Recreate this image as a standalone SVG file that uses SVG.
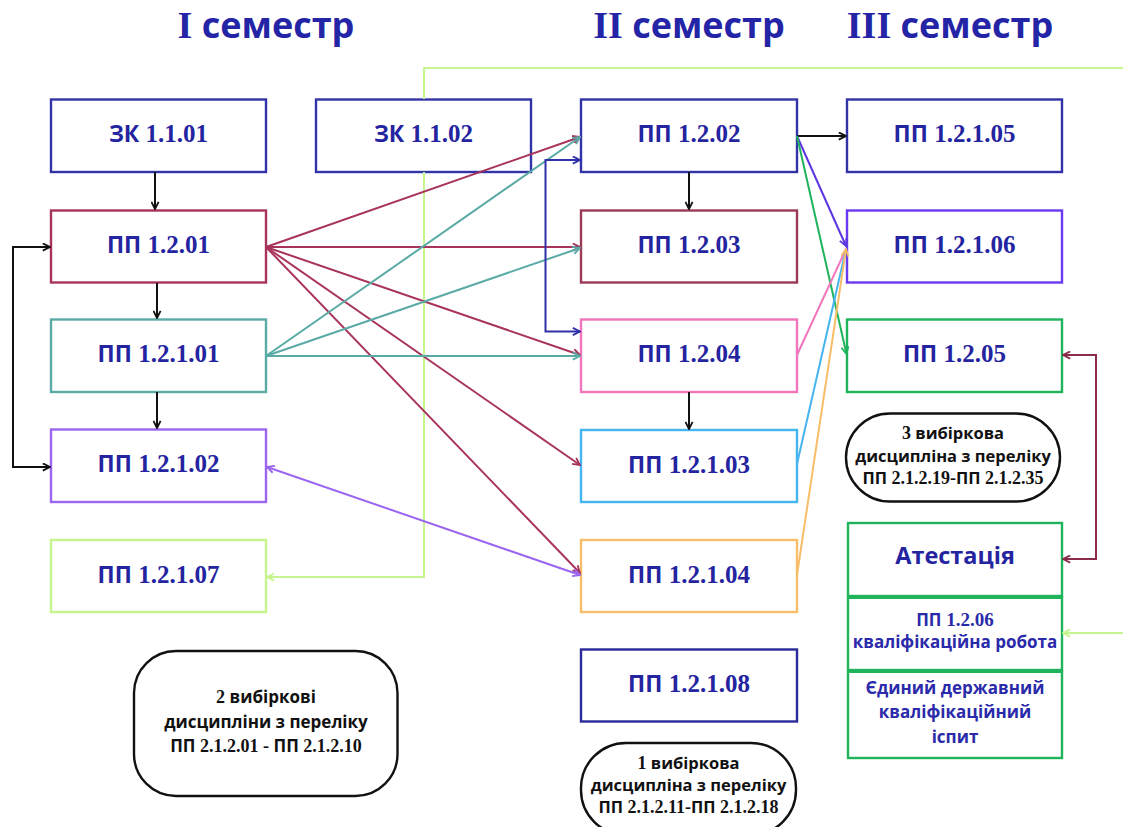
<svg xmlns="http://www.w3.org/2000/svg" width="1123" height="827" viewBox="0 0 1123 827">
<style>
.bg{fill:#ffffff}
.box{fill:#ffffff;stroke-width:2.4}
.lbl{font-family:"Open Sans","DejaVu Sans",sans-serif;font-weight:700;font-size:23px;fill:#2424a0;text-anchor:middle}
.n{font-family:"Liberation Serif","Times New Roman",serif;font-weight:700;font-size:25px}
.h{font-family:"Open Sans","DejaVu Sans",sans-serif;font-weight:700;font-size:36px;fill:#2424a6;text-anchor:middle}
.hn{font-family:"Liberation Serif","Times New Roman",serif;font-weight:700;font-size:38px}
.pill{fill:#ffffff;stroke:#111111;stroke-width:2.4}
.pt{font-family:"Open Sans","DejaVu Sans",sans-serif;font-weight:700;font-size:17px;fill:#111111;text-anchor:middle}
.pn{font-family:"Liberation Serif","Times New Roman",serif;font-weight:700;font-size:18px}
.st{font-family:"Open Sans","DejaVu Sans",sans-serif;font-weight:700;font-size:17px;fill:#2a2aaa;text-anchor:middle}
.c{fill:none;stroke-width:2}
</style>
<defs>
<marker id="mk" viewBox="0 0 10 10" refX="9" refY="5" markerWidth="9" markerHeight="9" markerUnits="userSpaceOnUse" orient="auto-start-reverse"><path d="M1,1 L9,5 L1,9" fill="none" stroke="#111111" stroke-width="2"/></marker>
<marker id="mr" viewBox="0 0 10 10" refX="9" refY="5" markerWidth="9" markerHeight="9" markerUnits="userSpaceOnUse" orient="auto-start-reverse"><path d="M1,1 L9,5 L1,9" fill="none" stroke="#a8345c" stroke-width="2"/></marker>
<marker id="mt" viewBox="0 0 10 10" refX="9" refY="5" markerWidth="9" markerHeight="9" markerUnits="userSpaceOnUse" orient="auto-start-reverse"><path d="M1,1 L9,5 L1,9" fill="none" stroke="#5aaaa6" stroke-width="2"/></marker>
<marker id="mb" viewBox="0 0 10 10" refX="9" refY="5" markerWidth="9" markerHeight="9" markerUnits="userSpaceOnUse" orient="auto-start-reverse"><path d="M1,1 L9,5 L1,9" fill="none" stroke="#3030a8" stroke-width="2"/></marker>
<marker id="mp" viewBox="0 0 10 10" refX="9" refY="5" markerWidth="9" markerHeight="9" markerUnits="userSpaceOnUse" orient="auto-start-reverse"><path d="M1,1 L9,5 L1,9" fill="none" stroke="#9a66f0" stroke-width="2"/></marker>
<marker id="mlg" viewBox="0 0 10 10" refX="9" refY="5" markerWidth="9" markerHeight="9" markerUnits="userSpaceOnUse" orient="auto-start-reverse"><path d="M1,1 L9,5 L1,9" fill="none" stroke="#c6f48e" stroke-width="2"/></marker>
<marker id="mv" viewBox="0 0 10 10" refX="9" refY="5" markerWidth="9" markerHeight="9" markerUnits="userSpaceOnUse" orient="auto-start-reverse"><path d="M1,1 L9,5 L1,9" fill="none" stroke="#5a35e0" stroke-width="2"/></marker>
<marker id="mg" viewBox="0 0 10 10" refX="9" refY="5" markerWidth="9" markerHeight="9" markerUnits="userSpaceOnUse" orient="auto-start-reverse"><path d="M1,1 L9,5 L1,9" fill="none" stroke="#1fb35c" stroke-width="2"/></marker>
<marker id="mo" viewBox="0 0 10 10" refX="9" refY="5" markerWidth="9" markerHeight="9" markerUnits="userSpaceOnUse" orient="auto-start-reverse"><path d="M1,1 L9,5 L1,9" fill="none" stroke="#f8bd68" stroke-width="2"/></marker>
<marker id="mdr" viewBox="0 0 10 10" refX="9" refY="5" markerWidth="9" markerHeight="9" markerUnits="userSpaceOnUse" orient="auto-start-reverse"><path d="M1,1 L9,5 L1,9" fill="none" stroke="#8a2b48" stroke-width="2"/></marker>
</defs>
<rect class="bg" x="0" y="0" width="1123" height="827"/>

<g id="headings">
<text class="h" x="266" y="38"><tspan class="hn">I</tspan> семестр</text>
<text class="h" x="689" y="38"><tspan class="hn">II</tspan> семестр</text>
<text class="h" x="950" y="38"><tspan class="hn">III</tspan> семестр</text>
</g>

<g id="zk-1-1-01"><rect class="box" x="51" y="99.5" width="215" height="72.5" stroke="#3333a8"/><text class="lbl" x="158.5" y="142">ЗК<tspan class="n"> 1.1.01</tspan></text></g>
<g id="zk-1-1-02"><rect class="box" x="316" y="99.5" width="215" height="72.5" stroke="#3333a8"/><text class="lbl" x="423.5" y="142">ЗК<tspan class="n"> 1.1.02</tspan></text></g>
<g id="pp-1-2-01"><rect class="box" x="51" y="210.5" width="215" height="72" stroke="#a8345c"/><text class="lbl" x="158.5" y="253">ПП<tspan class="n"> 1.2.01</tspan></text></g>
<g id="pp-1-2-1-01"><rect class="box" x="51" y="319.5" width="215" height="72.5" stroke="#5aaaa6"/><text class="lbl" x="158.5" y="362">ПП<tspan class="n"> 1.2.1.01</tspan></text></g>
<g id="pp-1-2-1-02"><rect class="box" x="51" y="429.5" width="215" height="72.5" stroke="#9a66f0"/><text class="lbl" x="158.5" y="472">ПП<tspan class="n"> 1.2.1.02</tspan></text></g>
<g id="pp-1-2-1-07"><rect class="box" x="51" y="540" width="215" height="72" stroke="#c6f48e"/><text class="lbl" x="158.5" y="582.5">ПП<tspan class="n"> 1.2.1.07</tspan></text></g>

<g id="pp-1-2-02"><rect class="box" x="581" y="99.5" width="216" height="72.5" stroke="#3333a8"/><text class="lbl" x="689" y="142">ПП<tspan class="n"> 1.2.02</tspan></text></g>
<g id="pp-1-2-03"><rect class="box" x="581" y="210.5" width="216" height="72" stroke="#9a3a55"/><text class="lbl" x="689" y="253">ПП<tspan class="n"> 1.2.03</tspan></text></g>
<g id="pp-1-2-04"><rect class="box" x="581" y="319.5" width="216" height="72.5" stroke="#f075bb"/><text class="lbl" x="689" y="362">ПП<tspan class="n"> 1.2.04</tspan></text></g>
<g id="pp-1-2-1-03"><rect class="box" x="581" y="430" width="216" height="72" stroke="#45b5f0"/><text class="lbl" x="689" y="472.5">ПП<tspan class="n"> 1.2.1.03</tspan></text></g>
<g id="pp-1-2-1-04"><rect class="box" x="581" y="540" width="216" height="72" stroke="#f8bd68"/><text class="lbl" x="689" y="582.5">ПП<tspan class="n"> 1.2.1.04</tspan></text></g>
<g id="pp-1-2-1-08"><rect class="box" x="581" y="649.5" width="216" height="72" stroke="#2a2a9a"/><text class="lbl" x="689" y="692">ПП<tspan class="n"> 1.2.1.08</tspan></text></g>

<g id="pp-1-2-1-05"><rect class="box" x="847" y="99.5" width="215" height="72.5" stroke="#3333a8"/><text class="lbl" x="954.5" y="142">ПП<tspan class="n"> 1.2.1.05</tspan></text></g>
<g id="pp-1-2-1-06"><rect class="box" x="847" y="210.5" width="215" height="72" stroke="#6a3af0"/><text class="lbl" x="954.5" y="253">ПП<tspan class="n"> 1.2.1.06</tspan></text></g>
<g id="pp-1-2-05"><rect class="box" x="847" y="319.5" width="215" height="72.5" stroke="#1fb35c"/><text class="lbl" x="954.5" y="362">ПП<tspan class="n"> 1.2.05</tspan></text></g>

<g id="attestation">
<rect class="box" x="848" y="523" width="214" height="73" stroke="#1fb35c"/>
<rect class="box" x="848" y="597.5" width="214" height="72.5" stroke="#1fb35c"/>
<rect class="box" x="848" y="671.5" width="214" height="86.5" stroke="#1fb35c"/>
<line x1="848" y1="597" x2="1062" y2="597" stroke="#1fb35c" stroke-width="4"/>
<line x1="848" y1="671" x2="1062" y2="671" stroke="#1fb35c" stroke-width="4"/>
<text class="lbl" x="955" y="564" style="font-size:23.5px">Атестація</text>
<text class="st" x="955" y="626">ПП<tspan class="pn" style="font-size:19px"> 1.2.06</tspan></text>
<text class="st" x="955" y="648">кваліфікаційна робота</text>
<text class="st" x="955" y="694">Єдиний державний</text>
<text class="st" x="955" y="718">кваліфікаційний</text>
<text class="st" x="955" y="743">іспит</text>
</g>

<g id="elective-1">
<rect class="pill" x="134" y="651" width="263.5" height="145" rx="42" ry="42"/>
<text class="pt" x="266" y="703"><tspan class="pn">2</tspan> вибіркові</text>
<text class="pt" x="266" y="728">дисципліни з переліку</text>
<text class="pt" x="266" y="752">ПП<tspan class="pn"> 2.1.2.01 - </tspan>ПП<tspan class="pn"> 2.1.2.10</tspan></text>
</g>
<g id="elective-2">
<rect class="pill" x="581" y="743" width="215" height="92" rx="45" ry="45"/>
<text class="pt" x="688.5" y="769" style="font-size:16.5px"><tspan class="pn">1</tspan> вибіркова</text>
<text class="pt" x="688.5" y="791" style="font-size:16.5px">дисципліна з переліку</text>
<text class="pt" x="688.5" y="813" style="font-size:16.5px">ПП<tspan class="pn"> 2.1.2.11-</tspan>ПП<tspan class="pn"> 2.1.2.18</tspan></text>
</g>
<g id="elective-3">
<rect class="pill" x="846" y="413.5" width="214" height="88" rx="44" ry="44"/>
<text class="pt" x="953" y="439" style="font-size:16.5px"><tspan class="pn">3</tspan> вибіркова</text>
<text class="pt" x="953" y="461.5" style="font-size:16.5px">дисципліна з переліку</text>
<text class="pt" x="953" y="484" style="font-size:16.5px">ПП<tspan class="pn"> 2.1.2.19-</tspan>ПП<tspan class="pn"> 2.1.2.35</tspan></text>
</g>

<g id="connectors" class="c">
<path d="M1123,68 H424 V99" stroke="#c6f48e"/>
<path d="M424,172 V577 H267" stroke="#c6f48e" marker-end="url(#mlg)"/>
<path d="M1123,633 H1063" stroke="#c6f48e" marker-end="url(#mlg)"/>
<path d="M155,172 V209" stroke="#111111" marker-end="url(#mk)"/>
<path d="M157,283 V318" stroke="#111111" marker-end="url(#mk)"/>
<path d="M157,392 V428" stroke="#111111" marker-end="url(#mk)"/>
<path d="M50,247 H13 V467 H50" stroke="#111111" marker-start="url(#mk)" marker-end="url(#mk)"/>
<path d="M689,172 V209" stroke="#111111" marker-end="url(#mk)"/>
<path d="M689,392 V429" stroke="#111111" marker-end="url(#mk)"/>
<path d="M797,136 H846" stroke="#111111" marker-end="url(#mk)"/>
<path d="M266,247 L580,137" stroke="#a8345c" marker-end="url(#mr)"/>
<path d="M266,247 L580,247" stroke="#a8345c" marker-end="url(#mr)"/>
<path d="M266,247 L580,355" stroke="#a8345c" marker-end="url(#mr)"/>
<path d="M266,247 L580,465" stroke="#a8345c" marker-end="url(#mr)"/>
<path d="M266,247 L580,573" stroke="#a8345c" marker-end="url(#mr)"/>
<path d="M266,356 L580,137" stroke="#5aaaa6" marker-end="url(#mt)"/>
<path d="M266,356 L580,248" stroke="#5aaaa6" marker-end="url(#mt)"/>
<path d="M266,356 L580,356" stroke="#5aaaa6" marker-end="url(#mt)"/>
<path d="M580,160 H545.5 V331.5 H580" stroke="#3030a8" marker-start="url(#mb)" marker-end="url(#mb)"/>
<path d="M267,467 L580,575" stroke="#9a66f0" marker-start="url(#mp)" marker-end="url(#mp)"/>
<path d="M797,136 L846,246" stroke="#5a35e0" marker-end="url(#mv)"/>
<path d="M797,136 L846.5,354" stroke="#1fb35c" marker-end="url(#mg)"/>
<path d="M797,355 L846,249" stroke="#f075bb"/>
<path d="M797,464 L846,249" stroke="#45b5f0"/>
<path d="M797,575 L846,249" stroke="#f8bd68" marker-end="url(#mo)"/>
<path d="M1063,355 H1096 V559 H1063" stroke="#8a2b48" marker-start="url(#mdr)" marker-end="url(#mdr)"/>
</g>
</svg>
